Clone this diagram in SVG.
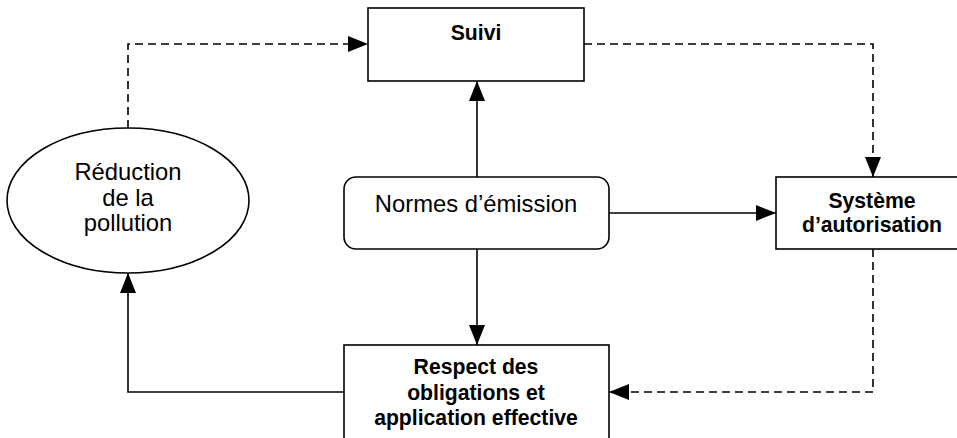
<svg xmlns="http://www.w3.org/2000/svg" width="957" height="438" viewBox="0 0 957 438">
<style>
.box{fill:#fff;stroke:#000;stroke-width:1.6}
.n{font-family:"Liberation Sans",Arial,sans-serif;font-size:23.8px;fill:#000;text-anchor:middle}
.b{font-family:"Liberation Sans",Arial,sans-serif;font-size:21.2px;font-weight:bold;fill:#000;text-anchor:middle}
.c{fill:none;stroke:#000;stroke-width:1.6}
.d{stroke-dasharray:8 5}
</style>
<defs>
<marker id="ah" viewBox="0 0 20 16" refX="20" refY="8" markerWidth="20" markerHeight="16" markerUnits="userSpaceOnUse" orient="auto">
<path d="M0,0 L20,8 L0,16 Z" fill="#000"/>
</marker>
</defs>
<g id="connectors">
<path class="c d" d="M128,128 V44 H368" marker-end="url(#ah)"/>
<path class="c d" d="M584,44 H873 V177" marker-end="url(#ah)"/>
<path class="c" d="M477,177 V81" marker-end="url(#ah)"/>
<path class="c" d="M609,213 H776" marker-end="url(#ah)"/>
<path class="c" d="M477,249 V345" marker-end="url(#ah)"/>
<path class="c d" d="M873,249 V392 H609" marker-end="url(#ah)"/>
<path class="c" d="M344,392 H128 V273" marker-end="url(#ah)"/>
</g>
<g id="suivi">
<rect class="box" x="368" y="8" width="216" height="73"/>
<text class="b" x="476" y="40">Suivi</text>
</g>
<g id="reduction">
<ellipse class="box" cx="128" cy="200.5" rx="121" ry="72.5"/>
<text class="n" x="128" y="180">Réduction</text>
<text class="n" x="128" y="205.5">de la</text>
<text class="n" x="128" y="231">pollution</text>
</g>
<g id="normes">
<rect class="box" x="344" y="177" width="265" height="72" rx="12" ry="12"/>
<text class="n" x="476" y="212">Normes d’émission</text>
</g>
<g id="systeme">
<rect class="box" x="776" y="177" width="194" height="72"/>
<text class="b" x="872" y="207.5">Système</text>
<text class="b" x="872" y="231.5">d’autorisation</text>
</g>
<g id="respect">
<rect class="box" x="344" y="345" width="265" height="110"/>
<text class="b" x="476" y="374">Respect des</text>
<text class="b" x="476" y="399.5">obligations et</text>
<text class="b" x="476" y="425">application effective</text>
</g>
</svg>
